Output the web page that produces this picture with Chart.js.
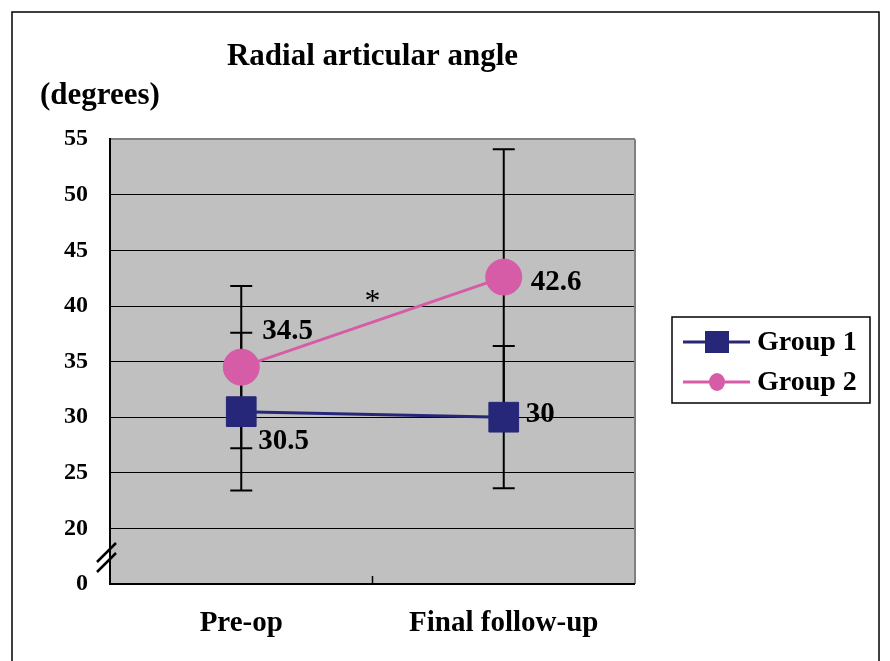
<!DOCTYPE html>
<html>
<head>
<meta charset="utf-8">
<script src="https://cdn.jsdelivr.net/npm/chart.js@4/dist/chart.umd.min.js"></script>
<style>
  html, body { margin: 0; padding: 0; background: #fff; }
  canvas { display: block; }
</style>
</head>
<body>
<canvas id="chart" width="890" height="661"></canvas>
<script>
const categories = ['Pre-op', 'Final follow-up']
const group1 = [30.5, 30]
const group2 = [34.5, 42.6]
const group1Err = [7.1, 6.4]
const group2Err = [7.3, 11.5]
const yMin = 15 // shown as "0" below the axis break
const yMax = 55
const yStep = 5

const NAVY = '#272779'
const PINK = '#d75ca8'
const SERIF = '"Liberation Serif", "Times New Roman", serif'

// label placement next to each point (dx, dy in px)
const labelOffsets = [
  [[17, 30], [22, -3]],
  [[21, -36], [27, 5]],
]

const decor = {
  id: 'decor',
  beforeDraw(chart) {
    const { ctx, chartArea: a } = chart
    ctx.save()
    ctx.fillStyle = '#fff'
    ctx.fillRect(0, 0, chart.width, chart.height)
    ctx.fillStyle = '#c0c0c0'
    ctx.fillRect(a.left, a.top, a.right - a.left, a.bottom - a.top)
    ctx.restore()
  },
  beforeDatasetsDraw(chart) {
    const { ctx, chartArea: a, scales } = chart
    const x = scales.x
    const y = scales.y
    ctx.save()
    // right frame of plot area
    ctx.strokeStyle = '#808080'
    ctx.lineWidth = 2
    ctx.beginPath()
    ctx.moveTo(a.right, a.top)
    ctx.lineTo(a.right, a.bottom)
    ctx.stroke()
    // bottom axis + middle tick
    ctx.strokeStyle = '#000'
    ctx.beginPath()
    ctx.moveTo(a.left, a.bottom)
    ctx.lineTo(a.right, a.bottom)
    ctx.stroke()
    const mid = (x.getPixelForValue(0) + x.getPixelForValue(1)) / 2
    ctx.lineWidth = 1.5
    ctx.beginPath()
    ctx.moveTo(mid, a.bottom)
    ctx.lineTo(mid, a.bottom - 8)
    ctx.stroke()
    // axis break marks
    ctx.lineWidth = 2.5
    ctx.beginPath()
    ctx.moveTo(a.left - 13, a.bottom - 22)
    ctx.lineTo(a.left + 6, a.bottom - 41)
    ctx.moveTo(a.left - 13, a.bottom - 12)
    ctx.lineTo(a.left + 6, a.bottom - 31)
    ctx.stroke()
    // error bars
    const sets = [[group1, group1Err], [group2, group2Err]]
    ctx.lineWidth = 2
    ctx.strokeStyle = '#000'
    sets.forEach(([vals, errs]) => {
      vals.forEach((v, i) => {
        const px = x.getPixelForValue(i)
        const hi = y.getPixelForValue(v + errs[i])
        const lo = y.getPixelForValue(v - errs[i])
        ctx.beginPath()
        ctx.moveTo(px, hi)
        ctx.lineTo(px, lo)
        ctx.moveTo(px - 11, hi)
        ctx.lineTo(px + 11, hi)
        ctx.moveTo(px - 11, lo)
        ctx.lineTo(px + 11, lo)
        ctx.stroke()
      })
    })
    ctx.restore()
  },
  afterDatasetsDraw(chart) {
    const { ctx } = chart
    ctx.save()
    ctx.fillStyle = '#000'
    ctx.font = 'bold 29px ' + SERIF
    ctx.textBaseline = 'middle'
    ctx.textAlign = 'left'
    chart.data.datasets.forEach((ds, d) => {
      const meta = chart.getDatasetMeta(d)
      meta.data.forEach((pt, i) => {
        const [dx, dy] = labelOffsets[d][i]
        ctx.fillText(String(ds.data[i]), pt.x + dx, pt.y + dy)
      })
    })
    // significance mark
    const m0 = chart.getDatasetMeta(1).data
    ctx.font = '32px ' + SERIF
    ctx.textAlign = 'center'
    ctx.fillText('*', (m0[0].x + m0[1].x) / 2, 303)
    ctx.restore()
  },
  afterDraw(chart) {
    const { ctx } = chart
    ctx.save()
    ctx.fillStyle = '#000'
    ctx.font = 'bold 31px ' + SERIF
    ctx.textBaseline = 'middle'
    ctx.textAlign = 'left'
    ctx.fillText('(degrees)', 40, 96)

    // legend
    const bx = 672, by = 317, bw = 198, bh = 86
    ctx.fillStyle = '#fff'
    ctx.fillRect(bx, by, bw, bh)
    ctx.strokeStyle = '#000'
    ctx.lineWidth = 1.5
    ctx.strokeRect(bx, by, bw, bh)
    chart.data.datasets.forEach((ds, d) => {
      const ly = by + 25 + d * 40
      ctx.strokeStyle = ds.borderColor
      ctx.lineWidth = 3
      ctx.beginPath()
      ctx.moveTo(bx + 11, ly)
      ctx.lineTo(bx + 78, ly)
      ctx.stroke()
      ctx.fillStyle = ds.borderColor
      if (ds.pointStyle === 'rect') {
        ctx.fillRect(bx + 33, ly - 11, 24, 22)
      } else {
        ctx.beginPath()
        ctx.ellipse(bx + 45, ly, 8, 9, 0, 0, Math.PI * 2)
        ctx.fill()
      }
      ctx.fillStyle = '#000'
      ctx.font = 'bold 28px ' + SERIF
      ctx.fillText(ds.label, bx + 85, ly + 1)
    })

    // outer frame
    ctx.strokeStyle = '#000'
    ctx.lineWidth = 1.5
    ctx.strokeRect(12, 12, 867, 700)
    ctx.restore()
  },
}

new Chart(document.getElementById('chart'), {
  type: 'line',
  data: {
    labels: categories,
    datasets: [
      {
        label: 'Group 1',
        data: group1,
        borderColor: NAVY,
        backgroundColor: NAVY,
        borderWidth: 3,
        pointStyle: 'rect',
        pointRadius: 21,
        pointBorderWidth: 1,
        pointBorderColor: NAVY,
        pointBackgroundColor: NAVY,
      },
      {
        label: 'Group 2',
        data: group2,
        borderColor: PINK,
        backgroundColor: PINK,
        borderWidth: 3,
        pointStyle: 'circle',
        pointRadius: 18,
        pointBorderWidth: 1,
        pointBorderColor: PINK,
        pointBackgroundColor: PINK,
      },
    ],
  },
  options: {
    responsive: false,
    animation: false,
    layout: { padding: { left: 0, right: 255, top: 0, bottom: 0 } },
    plugins: {
      legend: { display: false },
      tooltip: { enabled: false },
      title: {
        display: true,
        text: 'Radial articular angle',
        fullSize: false,
        color: '#000',
        font: { family: SERIF, size: 31, weight: 'bold' },
        padding: { top: 38, bottom: 64 },
      },
    },
    scales: {
      x: {
        type: 'category',
        offset: true,
        grid: { display: false },
        border: { display: false },
        ticks: {
          color: '#000',
          padding: 14,
          font: { family: SERIF, size: 29, weight: 'bold' },
        },
        afterFit: (s) => { s.height = 77 },
      },
      y: {
        min: yMin,
        max: yMax,
        grid: {
          drawTicks: false,
          color: (c) => (c.tick && c.tick.value === yMax ? '#808080' : '#000'),
          lineWidth: (c) => (c.tick && (c.tick.value === yMax || c.tick.value === yMin) ? 2 : 1),
        },
        border: { display: true, color: '#000', width: 2 },
        ticks: {
          stepSize: yStep,
          color: '#000',
          padding: 22,
          font: { family: SERIF, size: 24, weight: 'bold' },
          callback: (v) => (v === yMin ? '0' : v),
        },
        afterFit: (s) => { s.width = 110 },
      },
    },
  },
  plugins: [decor],
})
</script>
</body>
</html>
